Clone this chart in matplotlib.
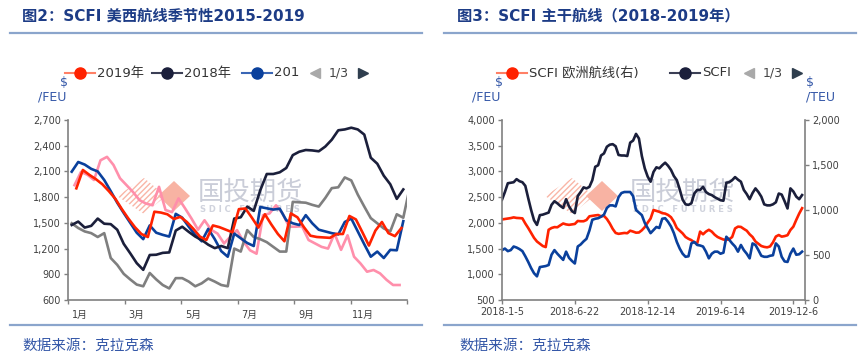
import matplotlib
matplotlib.use('Agg')
import matplotlib.pyplot as plt
from matplotlib.lines import Line2D
from matplotlib.patches import Polygon
from matplotlib.ticker import FuncFormatter
import numpy as np

plt.rcParams['font.family'] = ['DejaVu Sans', 'Noto Sans CJK SC']

W, H = 865, 356

# ---------------- Left chart data: SCFI US West Coast seasonality ----------------
month_ticks = [0, 2, 4, 6, 8, 10, 12]
month_labels = ['1月', '3月', '5月', '7月', '9月', '11月']
first_day = {'2015': 7, '2016': 4, '2017': 4, '2018': 4, '2019': 9}

v2015 = [1940, 2095, 2060, 2000, 2230, 2270, 2175, 2020, 1940, 1860, 1765, 1725, 1705,
         1920, 1650, 1625, 1785, 1670, 1550, 1420, 1530, 1420, 1375, 1260, 1340, 1415,
         1280, 1180, 1140, 1590, 1610, 1705, 1610, 1455, 1455, 1460, 1300, 1260, 1220,
         1200, 1375, 1185, 1355, 1105, 1025, 930, 950, 910, 835, 775, 775]
v2016 = [1495, 1440, 1400, 1380, 1335, 1380, 1090, 1010, 905, 840, 780, 760, 915,
         840, 775, 735, 855, 855, 815, 760, 795, 850, 815, 775, 760, 1200, 1165, 1415,
         1335, 1310, 1275, 1220, 1165, 1165, 1745, 1740, 1735, 1710, 1690, 1790, 1905,
         1915, 2030, 1995, 1830, 1690, 1555, 1495, 1435, 1400, 1600, 1560, 1915]
v2017 = [2097, 2210, 2180, 2130, 2100, 2000, 1870, 1735, 1615, 1500, 1385, 1310, 1470,
         1385, 1360, 1340, 1605, 1560, 1455, 1360, 1285, 1430, 1310, 1170, 1105, 1375,
         1320, 1265, 1230, 1685, 1670, 1655, 1665, 1530, 1495, 1475, 1590, 1495, 1420,
         1400, 1380, 1365, 1510, 1550, 1400, 1250, 1105, 1165, 1090, 1185, 1180, 1520]
v2018 = [1475, 1515, 1445, 1465, 1550, 1490, 1485, 1420, 1255, 1145, 1030, 952, 1125,
         1128, 1150, 1155, 1410, 1455, 1395, 1340, 1300, 1245, 1205, 1230, 1205, 1550,
         1565, 1690, 1640, 1880, 2070, 2070, 2090, 2140, 2290, 2330, 2350, 2345, 2335,
         2390, 2470, 2580, 2590, 2610, 2590, 2530, 2260, 2190, 2050, 1950, 1780, 1890]
v2019 = [1903, 2117, 2060, 2010, 1950, 1870, 1780, 1660, 1550, 1450, 1370, 1335, 1630,
         1620, 1600, 1545, 1570, 1510, 1430, 1340, 1300, 1470, 1450, 1420, 1390, 1660,
         1668, 1560, 1445, 1600, 1480, 1370, 1285, 1610, 1565, 1450, 1350, 1335, 1330,
         1325, 1370, 1370, 1580, 1540, 1390, 1235, 1410, 1510, 1380, 1345, 1440]

left_series = [
    ('2015', v2015, '#FF8FAB'),
    ('2016', v2016, '#7F7F7F'),
    ('2017', v2017, '#0A409C'),
    ('2018', v2018, '#1B1F3B'),
    ('2019', v2019, '#FF2200'),
]

# ---------------- Right chart data: SCFI main routes 2018-2019 ----------------
date_ticks = [0, 25, 50, 75, 100]
date_labels = ['2018-1-5', '2018-6-22', '2018-12-14', '2019-6-14', '2019-12-6']

scfi = [2450, 2600, 2770, 2780, 2790, 2850, 2810, 2790, 2720, 2480, 2250, 2050, 1960, 2150,
        2160, 2180, 2200, 2350, 2420, 2380, 2330, 2290, 2460, 2320, 2230, 2190, 2520, 2600,
        2690, 2670, 2700, 2830, 3090, 3120, 3310, 3350, 3480, 3520, 3530, 3490, 3320, 3310,
        3310, 3300, 3560, 3600, 3730, 3640, 3300, 3060, 2900, 2800, 2990, 3080, 3060, 3120,
        3170, 3110, 3030, 2910, 2830, 2650, 2450, 2360, 2350, 2380, 2570, 2640, 2640, 2700,
        2600, 2560, 2540, 2500, 2470, 2440, 2430, 2780, 2790, 2830, 2890, 2840, 2800, 2640,
        2560, 2460, 2580, 2670, 2600, 2510, 2360, 2340, 2340, 2360, 2400, 2570, 2550, 2420,
        2280, 2670, 2610, 2510, 2460, 2540]
uswc = [1470, 1500, 1450, 1470, 1540, 1520, 1490, 1450, 1350, 1240, 1120, 1020, 960, 1140,
        1150, 1160, 1180, 1380, 1470, 1400, 1340, 1280, 1440, 1320, 1260, 1210, 1540, 1580,
        1640, 1690, 1850, 2060, 2080, 2090, 2120, 2160, 2290, 2340, 2340, 2320, 2500, 2580,
        2600, 2600, 2600, 2520, 2250, 2200, 2150, 2000, 1900, 1800, 1860, 1920, 1900, 2080,
        2090, 2020, 1930, 1800, 1630, 1500, 1400, 1340, 1350, 1600, 1630, 1570, 1560, 1540,
        1440, 1310, 1400, 1440, 1440, 1400, 1420, 1730, 1670, 1600, 1540, 1440, 1570, 1470,
        1400, 1310, 1600, 1570, 1470, 1360, 1340, 1340, 1360, 1370, 1600, 1540, 1340, 1250,
        1240, 1400, 1500, 1380, 1390, 1440]
europe = [895, 900, 905, 910, 918, 912, 910, 907, 850, 800, 745, 690, 650, 625, 600, 588,
          780, 800, 810, 808, 830, 850, 840, 835, 840, 845, 878, 875, 875, 889, 930, 935,
          940, 944, 930, 935, 900, 850, 790, 745, 735, 740, 745, 742, 770, 760, 748, 750,
          775, 810, 860, 905, 1000, 990, 980, 965, 960, 945, 920, 870, 800, 770, 740, 700,
          680, 665, 640, 630, 760, 730, 760, 780, 760, 725, 700, 685, 672, 668, 675, 700,
          795, 815, 812, 790, 770, 730, 700, 650, 625, 600, 590, 585, 595, 640, 705, 722,
          704, 710, 720, 778, 815, 890, 960, 1020]

# ---------------- styles ----------------
TITLE_C = '#1D3C86'
RULE_C = '#8BA5CC'
SRC_C = '#3558A8'
UNIT_C = '#3558A8'
SPINE_C = '#808080'
TICK_C = '#404040'


def fx(x):
    return x / W


def fy(y):
    return 1 - y / H


fig = plt.figure(figsize=(W / 100, H / 100), dpi=100)
fig.patch.set_facecolor('white')

# titles, rules, sources
fig.text(fx(22), fy(16), '图2：SCFI 美西航线季节性2015-2019', fontsize=11, fontweight='bold',
         color=TITLE_C, va='center', ha='left', family=['DejaVu Sans', 'Noto Sans CJK SC'])
fig.text(fx(457), fy(16), '图3：SCFI 主干航线（2018-2019年）', fontsize=11, fontweight='bold',
         color=TITLE_C, va='center', ha='left', family=['DejaVu Sans', 'Noto Sans CJK SC'])
for (a, b) in [(10, 422), (444, 856)]:
    fig.add_artist(Line2D([fx(a), fx(b)], [fy(33), fy(33)], color=RULE_C, lw=1.6))
    fig.add_artist(Line2D([fx(a), fx(b)], [fy(325), fy(325)], color=RULE_C, lw=1.6))
fig.text(fx(22), fy(345), '数据来源：克拉克森', fontsize=10.5, color=SRC_C, va='center', ha='left',
         style='italic')
fig.text(fx(459), fy(345), '数据来源：克拉克森', fontsize=10.5, color=SRC_C, va='center', ha='left',
         style='italic')


def watermark(cx_text, cx_diamond):
    # hatched half and solid diamond of the logo
    hx = cx_diamond - 30
    hatch = Polygon([(fx(hx - 27), fy(196)), (fx(hx), fy(178)), (fx(hx + 22), fy(196)),
                     (fx(hx), fy(214))], closed=True, facecolor='none', edgecolor='#F9B5A6',
                    hatch='//////', lw=0, transform=fig.transFigure, zorder=-5)
    fig.add_artist(hatch)
    dia = Polygon([(fx(cx_diamond - 16), fy(196)), (fx(cx_diamond), fy(181)),
                   (fx(cx_diamond + 16), fy(196)), (fx(cx_diamond), fy(211))], closed=True,
                  facecolor='#F8B3A3', edgecolor='none', transform=fig.transFigure, zorder=-5)
    fig.add_artist(dia)
    fig.text(fx(cx_text), fy(192), '国投期货', fontsize=19, color='#CACDD8', ha='center',
             va='center', zorder=-5, family=['Noto Sans CJK SC'])
    fig.text(fx(cx_text), fy(209), 'S D I C   F U T U R E S', fontsize=6, fontweight='bold',
             color='#D0D3DD', ha='center', va='center', zorder=-5)


watermark(250, 174)
watermark(683, 602)


def legend_item(x, y, color, lcolor, label, fs=9.5):
    fig.add_artist(Line2D([fx(x - 15), fx(x + 15)], [fy(y), fy(y)], color=lcolor, lw=1.5))
    fig.add_artist(Line2D([fx(x)], [fy(y)], marker='o', ms=8, color=color, mec=color, lw=0))
    fig.text(fx(x + 17), fy(y), label, fontsize=fs, color='#333333', va='center', ha='left')


def pager(xl, y):
    fig.add_artist(Line2D([fx(xl)], [fy(y)], marker='<', ms=7, color='#A9A9A9', lw=0))
    fig.text(fx(xl + 24), fy(y), '1/3', fontsize=9, color='#444444', va='center', ha='center')
    fig.add_artist(Line2D([fx(xl + 48)], [fy(y)], marker='>', ms=7, color='#2F3E4E', lw=0))


legend_item(80, 73, '#FF2200', '#FF8066', '2019年')
legend_item(167, 73, '#1B1F3B', '#3B3F55', '2018年')
legend_item(257, 73, '#0A409C', '#3A66B5', '201')
pager(315, 73)
legend_item(512, 73, '#FF2200', '#FF8066', 'SCFI 欧洲航线(右)')
legend_item(685, 73, '#1B1F3B', '#3B3F55', 'SCFI')
pager(749, 73)

# unit labels
fig.text(fx(64), fy(82), '$', fontsize=9, color=UNIT_C, ha='center', va='center')
fig.text(fx(52), fy(97), '/FEU', fontsize=9, color=UNIT_C, ha='center', va='center')
fig.text(fx(499), fy(82), '$', fontsize=9, color=UNIT_C, ha='center', va='center')
fig.text(fx(486), fy(97), '/FEU', fontsize=9, color=UNIT_C, ha='center', va='center')
fig.text(fx(810), fy(82), '$', fontsize=9, color=UNIT_C, ha='center', va='center')
fig.text(fx(821), fy(97), '/TEU', fontsize=9, color=UNIT_C, ha='center', va='center')

fmt = FuncFormatter(lambda v, p: f'{int(v):,}')


def style_axis(ax):
    ax.set_facecolor('none')
    for s in ['top', 'right']:
        ax.spines[s].set_visible(False)
    for s in ['left', 'bottom']:
        ax.spines[s].set_color(SPINE_C)
        ax.spines[s].set_linewidth(1.2)
    ax.tick_params(axis='both', which='major', direction='out', length=3, width=1,
                   color=SPINE_C, labelcolor=TICK_C, labelsize=7, pad=2)


# ---------------- left chart ----------------
ax1 = fig.add_axes([fx(68), 1 - 300 / H, 339 / W, 180 / H])
style_axis(ax1)
for name, vals, col in left_series:
    x = (first_day[name] + 7 * np.arange(len(vals))) / 365.0 * 12
    ax1.plot(x, vals, color=col, lw=1.9, solid_joinstyle='round')
ax1.set_xlim(0, 12)
ax1.set_ylim(600, 2700)
ax1.set_yticks(np.arange(600, 2701, 300))
ax1.yaxis.set_major_formatter(fmt)
ax1.set_xticks(month_ticks)
ax1.set_xticklabels([''] * len(month_ticks))
ax1.set_xticks([t + 0.43 for t in month_ticks[:-1]], minor=True)
ax1.set_xticklabels(month_labels, minor=True)
ax1.tick_params(axis='x', which='minor', length=0, labelsize=7, labelcolor=TICK_C, pad=7)

# ---------------- right chart ----------------
ax2 = fig.add_axes([fx(502), 1 - 300 / H, 303 / W, 180 / H])
style_axis(ax2)
idx = np.arange(len(scfi))
ax2r = ax2.twinx()
ax2r.set_facecolor('none')
for s in ['top', 'left', 'bottom']:
    ax2r.spines[s].set_visible(False)
ax2r.spines['right'].set_color(SPINE_C)
ax2r.spines['right'].set_linewidth(1.2)
ax2r.tick_params(axis='y', direction='out', length=3, width=1, color=SPINE_C,
                 labelcolor=TICK_C, labelsize=7, pad=2)

ax2.plot(idx, uswc, color='#0A409C', lw=1.9)
ax2.plot(idx, scfi, color='#1B1F3B', lw=1.9)
ax2r.plot(np.arange(len(europe)), europe, color='#FF2200', lw=1.9)
ax2.set_zorder(ax2r.get_zorder() + 1)
ax2.set_xlim(0, 104)
ax2r.set_xlim(0, 104)
ax2.set_ylim(500, 4000)
ax2.set_yticks(np.arange(500, 4001, 500))
ax2.yaxis.set_major_formatter(fmt)
ax2r.set_ylim(0, 2000)
ax2r.set_yticks(np.arange(0, 2001, 500))
ax2r.yaxis.set_major_formatter(fmt)
ax2.set_xticks(date_ticks + [104])
ax2.set_xticklabels(date_labels + [''])

fig.savefig('out.png', dpi=100)
